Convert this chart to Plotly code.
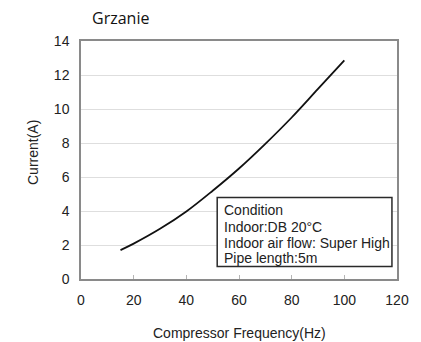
import plotly.graph_objects as go

# Compressor current vs. frequency (heating mode)
freq_hz = [15, 20, 30, 40, 50, 60, 70, 80, 90, 100]
current_a = [1.7, 2.08, 2.95, 3.97, 5.19, 6.5, 7.95, 9.5, 11.18, 12.86]

x_ticks = [0, 20, 40, 60, 80, 100, 120]
y_ticks = [0, 2, 4, 6, 8, 10, 12, 14]

condition_lines = [
    "Condition",
    "Indoor:DB 20°C",
    "Indoor air flow: Super High",
    "Pipe length:5m",
]

ARIAL = "Arial, Liberation Sans, sans-serif"
tick_font = dict(family=ARIAL, size=14, color="#222222")

fig = go.Figure()
fig.add_trace(go.Scatter(
    x=freq_hz, y=current_a, mode="lines",
    line=dict(color="#111111", width=1.8, shape="spline", smoothing=1.0),
    showlegend=False, hoverinfo="skip",
))

fig.update_layout(
    width=421, height=342,
    margin=dict(l=81, r=20, t=41, b=63),
    paper_bgcolor="white", plot_bgcolor="white",
    xaxis=dict(
        range=[0, 120], tickvals=x_ticks, ticktext=[str(v) for v in x_ticks],
        showgrid=False, zeroline=False,
        showline=True, linecolor="#8a8a8a", linewidth=1.5, mirror=True,
        ticks="inside", ticklen=4, tickcolor="#b5b5b5",
        ticklabelstandoff=7, tickfont=tick_font,
    ),
    yaxis=dict(
        range=[0, 14], tickvals=y_ticks, ticktext=[str(v) for v in y_ticks],
        showgrid=True, gridcolor="#dedede", gridwidth=1, zeroline=False,
        showline=True, linecolor="#8a8a8a", linewidth=1.5, mirror=True,
        ticks="", ticklabelstandoff=7, tickfont=tick_font,
    ),
    font=tick_font,
)

# Chart title
fig.add_annotation(
    text="Grzanie", xref="paper", yref="paper", x=0, y=1,
    xanchor="left", yanchor="middle", xshift=9, yshift=23,
    showarrow=False, font=dict(family="Open Sans, sans-serif", size=16, color="#111111"),
)

# Axis titles
fig.add_annotation(
    text="Current(A)", xref="paper", yref="paper", x=0, y=0.5,
    xanchor="center", yanchor="middle", xshift=-48, yshift=7, textangle=-90,
    showarrow=False, font=tick_font,
)
fig.add_annotation(
    text="Compressor Frequency(Hz)", xref="paper", yref="paper", x=0.5, y=0,
    xanchor="center", yanchor="middle", yshift=-54,
    showarrow=False, font=tick_font,
)

# Test-condition box
fig.add_shape(
    type="rect", xref="paper", yref="paper",
    x0=0.431, x1=0.984, y0=0.052, y1=0.342,
    line=dict(color="#2a2a2a", width=1.5), fillcolor="white", layer="above",
)
line_y = [0.291, 0.2205, 0.153, 0.0885]
for txt, yy in zip(condition_lines, line_y):
    fig.add_annotation(
        text=txt, xref="paper", yref="paper", x=0.447, y=yy,
        xanchor="left", yanchor="middle", align="left", showarrow=False,
        font=tick_font,
    )

fig.write_html("out.html")
